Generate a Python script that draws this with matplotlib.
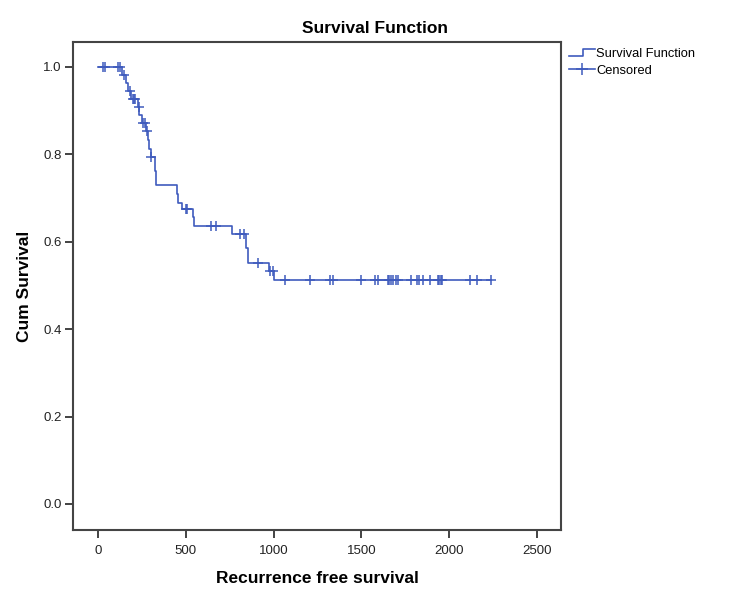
import matplotlib
matplotlib.use('Agg')
import matplotlib.pyplot as plt
import numpy as np
from matplotlib.legend_handler import HandlerBase
from matplotlib.lines import Line2D

# step points of the survival curve (time, cum survival after the event)
event_times = [0, 140, 158, 172, 190, 228, 236, 250, 276, 285, 293, 300, 325, 332,
               450, 458, 480, 542, 545, 764, 843, 855, 975, 1002]
surv = [1.0, 0.982, 0.964, 0.945, 0.927, 0.909, 0.891, 0.872, 0.853, 0.833, 0.813, 0.794,
        0.762, 0.729, 0.709, 0.689, 0.675, 0.656, 0.636, 0.617, 0.585, 0.551, 0.533, 0.512]
last_time = 2238

# censored times
censor_times = [31, 42, 116, 126, 150, 180, 198, 205, 212, 234, 258, 270, 280, 302,
                502, 507, 644, 673, 809, 832, 912, 980, 997,
                1065, 1210, 1320, 1338, 1500, 1575, 1595, 1650, 1660, 1670, 1680, 1695, 1708,
                1785, 1815, 1828, 1850, 1890, 1935, 1945, 1952, 1960, 2120, 2160, 2238]

xticks = [0, 500, 1000, 1500, 2000, 2500]
yticks = [0.0, 0.2, 0.4, 0.6, 0.8, 1.0]

blue = '#3f5bbd'
plt.rcParams['font.family'] = ['Liberation Sans', 'DejaVu Sans']

fig = plt.figure(figsize=(7.5, 5.99), dpi=100)
ax = fig.add_axes([0.0973, 0.1152, 0.6507, 0.8147])

xs = list(event_times) + [last_time]
ys = list(surv) + [surv[-1]]
ax.step(xs, ys, where='post', color=blue, lw=1.2)

idx = np.searchsorted(event_times, censor_times, side='right') - 1
cy = [surv[i] for i in idx]
ax.plot(censor_times, cy, ls='none', marker='+', ms=7, mew=1.1, color=blue)

ax.set_xlim(-142, 2637)
ax.set_ylim(-0.0595, 1.057)
ax.set_xticks(xticks)
ax.set_yticks(yticks)
ax.set_xticklabels([str(v) for v in xticks])
ax.set_yticklabels(['%.1f' % v for v in yticks])
ax.tick_params(axis='both', labelsize=9.5, colors='#222222', length=6, width=1.2, direction='out')
ax.tick_params(axis='x', pad=5)
ax.tick_params(axis='y', pad=2)
for s in ax.spines.values():
    s.set_color('#444444')
    s.set_linewidth(1.5)

ax.set_xlabel('Recurrence free survival', fontsize=12.5, fontweight='bold', labelpad=10)
ax.set_ylabel('Cum Survival', fontsize=12.5, fontweight='bold', labelpad=8)
fig.text(0.5, 0.953, 'Survival Function', ha='center', va='center', fontsize=12.5, fontweight='bold')


class StepHandler(HandlerBase):
    def create_artists(self, legend, orig_handle, xdescent, ydescent, width, height, fontsize, trans):
        x0, x1 = -xdescent, -xdescent + width
        y0, y1 = -ydescent + height * 0.15, -ydescent + height * 0.9
        xm = x0 + width * 0.55
        line = Line2D([x0, xm, xm, x1], [y0, y0, y1, y1], color=blue, lw=1.2, transform=trans)
        return [line]


step_handle = Line2D([], [], color=blue)
cens_handle = Line2D([], [], color=blue, marker='+', ms=9, mew=1.1, lw=1.2)
fig.legend([step_handle, cens_handle], ['Survival Function', 'Censored'],
           handler_map={step_handle: StepHandler()},
           loc='upper left', bbox_to_anchor=(0.752, 0.928), frameon=False,
           fontsize=9.3, handlelength=2.0, handletextpad=0.1, labelspacing=0.35, borderaxespad=0)

fig.savefig('out.png', dpi=100)
